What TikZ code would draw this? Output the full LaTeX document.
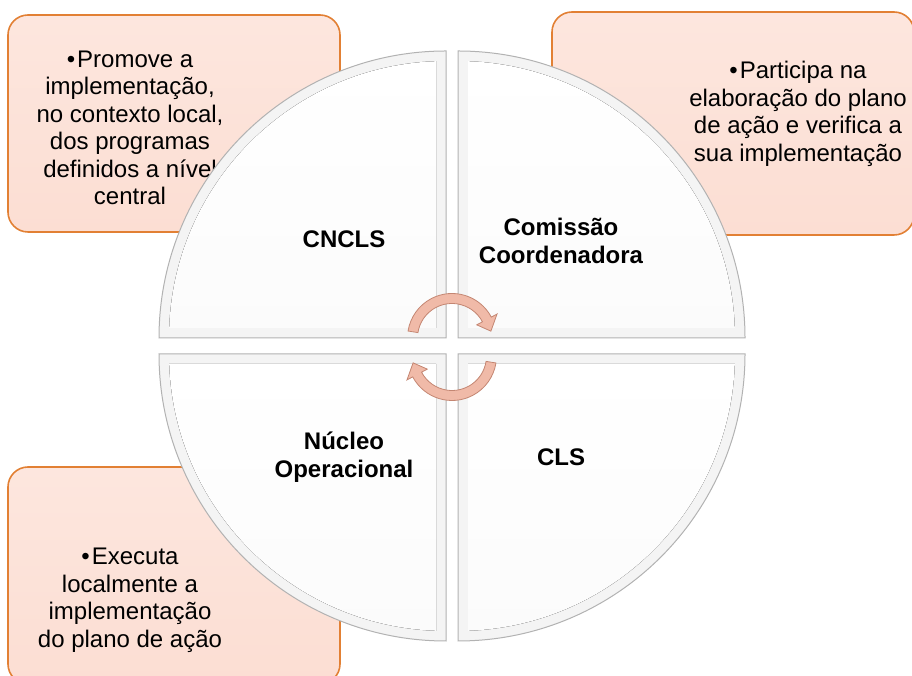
\documentclass[tikz,border=0pt]{standalone}
\usepackage{fontspec}
\setmainfont{Liberation Sans}
\usepackage{tikz}

\definecolor{caixa}{RGB}{252,222,211}
\definecolor{borda}{RGB}{226,128,52}
\definecolor{seta}{RGB}{240,186,168}
\definecolor{setaborda}{RGB}{196,134,114}

\begin{document}
\begin{tikzpicture}[x=1pt, y=1pt,
		caixa/.style={draw=borda, line width=1.6pt, rounded corners=20pt, top color=caixa!75!white, bottom color=caixa, inner sep=0pt},
		texto/.style={align=center, font=\fontsize{24}{27.5}\selectfont},
		rotulo/.style={align=center, font=\fontsize{24}{28}\selectfont\bfseries},
		quarto/.style={top color=white, bottom color=gray!3},
		bisel/.style={fill=gray!9},
		contorno/.style={draw=gray!60, line width=1pt},
		setacurva/.style={fill=seta, draw=setaborda, line width=0.8pt}]
			\useasboundingbox (0,0) rectangle (912,676);
			\clip (0,0) rectangle (912,676);

			\node[caixa, minimum width=332pt, minimum height=217pt] (caixaCncls) at (174,552.5) {}; % caixa CNCLS
			\node[caixa, minimum width=362pt, minimum height=223pt] (caixaComissao) at (733,552.5) {}; % caixa comissao
			\node[caixa, minimum width=332pt, minimum height=217pt] (caixaNucleo) at (174,100.5) {}; % caixa nucleo

			\node[texto] (txtCncls) at (130,548) {•\hspace{2pt}Promove a\\implementação,\\no contexto local,\\dos programas\\definidos a nível\\central};
			\node[texto] (txtComissao) at (798,562) {•\hspace{2pt}Participa na\\elaboração do plano\\de ação e verifica a\\sua implementação};
			\node[texto] (txtNucleo) at (130,75.5) {•\hspace{2pt}Executa\\localmente a\\implementação\\do plano de ação};

			\foreach \cx/\cy/\a in {446/338/90, 458/338/0, 446/322/180, 458/322/270}{
				\begin{scope}[shift={(\cx,\cy)}]
					\fill[bisel] (0,0) -- (\a:287) arc[start angle=\a, delta angle=90, radius=287pt] -- cycle;
					\fill[quarto] (\a+45:14.14) -- (\a+2.07:277) arc[start angle=\a+2.07, delta angle=85.86, radius=277pt] -- cycle;
					\draw[contorno] (0,0) -- (\a:287) arc[start angle=\a, delta angle=90, radius=287pt] -- cycle;
				\end{scope}
			}

			\node[rotulo] (cncls) at (344,437) {CNCLS};
			\node[rotulo] (comissao) at (561,435) {Comissão\\Coordenadora};
			\node[rotulo] (nucleo) at (344,218.5) {Núcleo\\Operacional};
			\node[rotulo] (cls) at (561,219) {CLS};

			\foreach \r in {0,180}{
				\begin{scope}[shift={(452,329)}, rotate=\r, shift={(0,9)}]
					\draw[setacurva] (171:34.5) arc[start angle=171, end angle=28, radius=34.5pt] -- (28:28) -- (10:39.5) -- (28:51) -- (28:44.5) arc[start angle=28, end angle=171, radius=44.5pt] -- cycle; % seta circular
				\end{scope}
			}
		\end{tikzpicture}
\end{document}
